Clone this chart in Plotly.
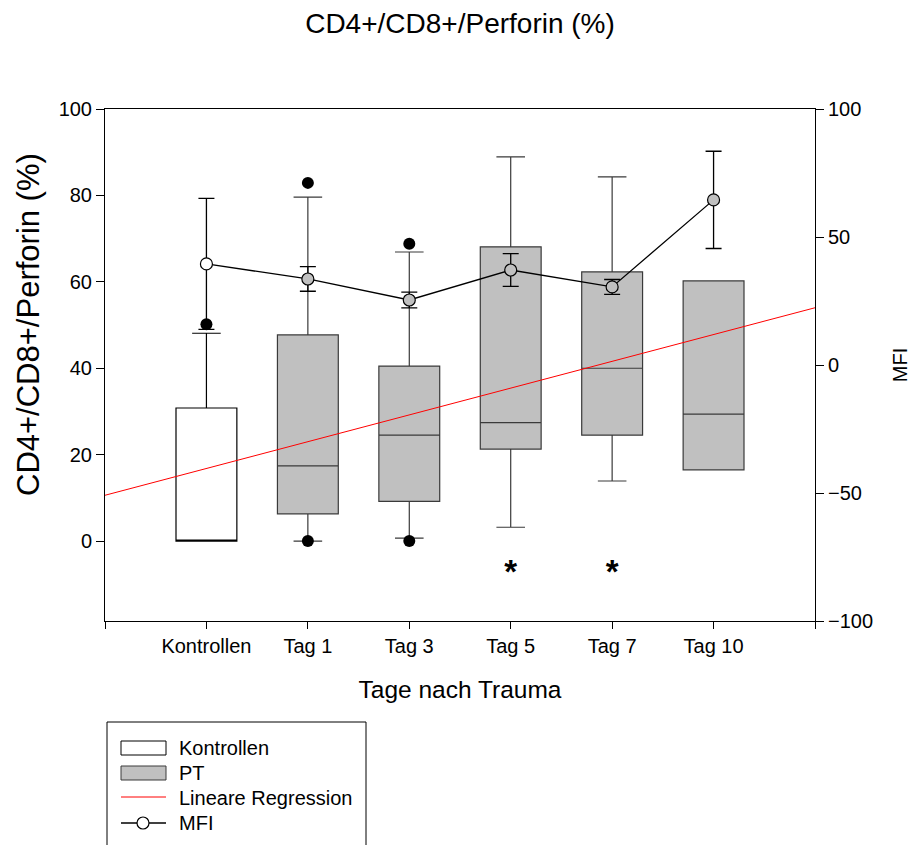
import plotly.graph_objects as go

# ---------------- data ----------------
categories = ["Kontrollen", "Tag 1", "Tag 3", "Tag 5", "Tag 7", "Tag 10"]
cat_pos = [1, 2, 3, 4, 5, 6]

box_q1 = [0.0, 6.3, 9.2, 21.3, 24.5, 16.5]
box_median = [0.0, 17.4, 24.5, 27.4, 40.0, 29.4]
box_q3 = [30.8, 47.7, 40.5, 68.1, 62.3, 60.2]
box_lower = [0.0, 0.0, 0.7, 3.2, 13.9, 16.5]
box_upper = [48.1, 79.6, 66.9, 88.9, 84.3, 60.2]

outlier_cat = ["Kontrollen", "Tag 1", "Tag 1", "Tag 3", "Tag 3"]
outlier_val = [50.2, 82.9, 0.0, 68.8, 0.0]

mfi_mean = [39.5, 33.6, 25.4, 37.1, 30.5, 64.5]
mfi_err = [25.6, 4.8, 3.1, 6.4, 2.9, 19.0]

reg_intercept = 10.6
reg_slope = 6.2
reg_x = [0, 7]

star_cat = ["Tag 5", "Tag 7"]
star_val = [-7.7, -7.7]

left_ticks = [0, 20, 40, 60, 80, 100]
right_ticks = [-100, -50, 0, 50, 100]

# ---------------- helpers ----------------
pos = dict(zip(categories, cat_pos))
FONT = "Liberation Sans, Arial, sans-serif"
L, R, T, B = 105, 815, 109, 621
W, H = 911, 845


def px(xp):
    return (xp - L) / (R - L)


def py(yp):
    return (B - yp) / (B - T)


fig = go.Figure()

# regression line (behind boxes)
fig.add_trace(go.Scatter(
    x=reg_x, y=[reg_intercept + reg_slope * v for v in reg_x],
    mode="lines", line=dict(color="#ff0000", width=1),
    showlegend=False, hoverinfo="skip"))

# boxes
for i, c in enumerate(categories):
    fill = "#ffffff" if c == "Kontrollen" else "#c0c0c0"
    lc = "#000000" if c == "Kontrollen" else "#3a3a3a"
    fig.add_trace(go.Box(
        x=[pos[c]], q1=[box_q1[i]], median=[box_median[i]], q3=[box_q3[i]],
        lowerfence=[box_lower[i]], upperfence=[box_upper[i]],
        width=0.6, whiskerwidth=0.47, boxpoints=False,
        fillcolor=fill, line=dict(color=lc, width=1.2),
        showlegend=False, name=c))

# outliers
fig.add_trace(go.Scatter(
    x=[pos[c] for c in outlier_cat], y=outlier_val, mode="markers",
    marker=dict(color="black", size=12, line=dict(width=0)),
    showlegend=False, cliponaxis=False))

# MFI line on right axis
fig.add_trace(go.Scatter(
    x=cat_pos, y=mfi_mean, yaxis="y2", mode="lines+markers",
    line=dict(color="black", width=1.3),
    marker=dict(size=12, color=["#ffffff"] + ["#c0c0c0"] * 5,
                line=dict(color="black", width=1.2)),
    error_y=dict(type="data", array=mfi_err, visible=True,
                 color="black", thickness=1.3, width=8),
    showlegend=False))

# significance stars
fig.add_trace(go.Scatter(
    x=[pos[c] for c in star_cat], y=star_val, mode="text", text=["*"] * len(star_cat),
    textposition="middle center",
    textfont=dict(family=FONT, size=33, color="black", weight="bold"),
    showlegend=False, hoverinfo="skip"))

TICKFONT = dict(family=FONT, size=20, color="black")
axis_common = dict(showline=True, linecolor="black", linewidth=1, ticks="outside",
                   tickcolor="black", tickwidth=1, showgrid=False, automargin=False,
                   zeroline=False, tickfont=TICKFONT)

fig.update_layout(
    width=W, height=H,
    margin=dict(l=L, r=W - R, t=T, b=H - B, autoexpand=False),
    paper_bgcolor="white", plot_bgcolor="white",
    font=dict(family=FONT, color="black"),
    title=dict(text="CD4+/CD8+/Perforin (%)", x=0.5, xref="paper",
               y=1 - 23 / H, yref="container", yanchor="middle",
               font=dict(family=FONT, size=28, color="black")),
    xaxis=dict(range=[0, 7], tickvals=[0] + cat_pos + [7],
               ticktext=[""] + categories + [""], mirror=True, ticklen=7,
               title=dict(text="Tage nach Trauma", font=dict(family=FONT, size=24.5),
                          standoff=24),
               **axis_common),
    yaxis=dict(range=[-18.5, 100], tickvals=left_ticks, mirror=True, ticklen=8,
               **axis_common),
    yaxis2=dict(range=[-100, 100], tickvals=right_ticks, overlaying="y", side="right",
                ticklen=8,
                title=dict(text="MFI", font=dict(family=FONT, size=20), standoff=22),
                **axis_common),
)

# ---------------- manual legend ----------------
shapes = []
ann = []
# left axis title (centred on the 0-100 part of the axis, as in the original)
ann.append(dict(text="CD4+/CD8+/Perforin (%)", xref="paper", yref="paper",
                x=px(28), y=py(325), xanchor="center", yanchor="middle",
                textangle=-90, showarrow=False,
                font=dict(family=FONT, size=31, color="black")))
shapes.append(dict(type="rect", xref="paper", yref="paper",
                   x0=px(107), x1=px(366), y0=py(722), y1=py(870),
                   line=dict(color="black", width=1), fillcolor="rgba(0,0,0,0)"))
shapes.append(dict(type="rect", xref="paper", yref="paper",
                   x0=px(121), x1=px(166), y0=py(741), y1=py(755),
                   line=dict(color="black", width=1), fillcolor="white"))
shapes.append(dict(type="rect", xref="paper", yref="paper",
                   x0=px(121), x1=px(166), y0=py(766), y1=py(780),
                   line=dict(color="#3a3a3a", width=1), fillcolor="#c0c0c0"))
shapes.append(dict(type="line", xref="paper", yref="paper",
                   x0=px(121), x1=px(166), y0=py(797), y1=py(797),
                   line=dict(color="#ff0000", width=1)))
shapes.append(dict(type="line", xref="paper", yref="paper",
                   x0=px(121), x1=px(166), y0=py(823), y1=py(823),
                   line=dict(color="black", width=1.3)))
shapes.append(dict(type="circle", xref="paper", yref="paper",
                   x0=px(137), x1=px(149), y0=py(817), y1=py(829),
                   line=dict(color="black", width=1.2), fillcolor="white"))
for label, yc in zip(["Kontrollen", "PT", "Lineare Regression", "MFI"], [748, 773, 798, 823]):
    ann.append(dict(text=label, xref="paper", yref="paper", x=px(177), y=py(yc),
                    xanchor="left", yanchor="middle", showarrow=False,
                    font=dict(family=FONT, size=20, color="black")))

fig.update_layout(shapes=shapes, annotations=ann)

fig.write_html("out.html", config={"displayModeBar": False},
               post_script="document.body.style.margin='0px';")
